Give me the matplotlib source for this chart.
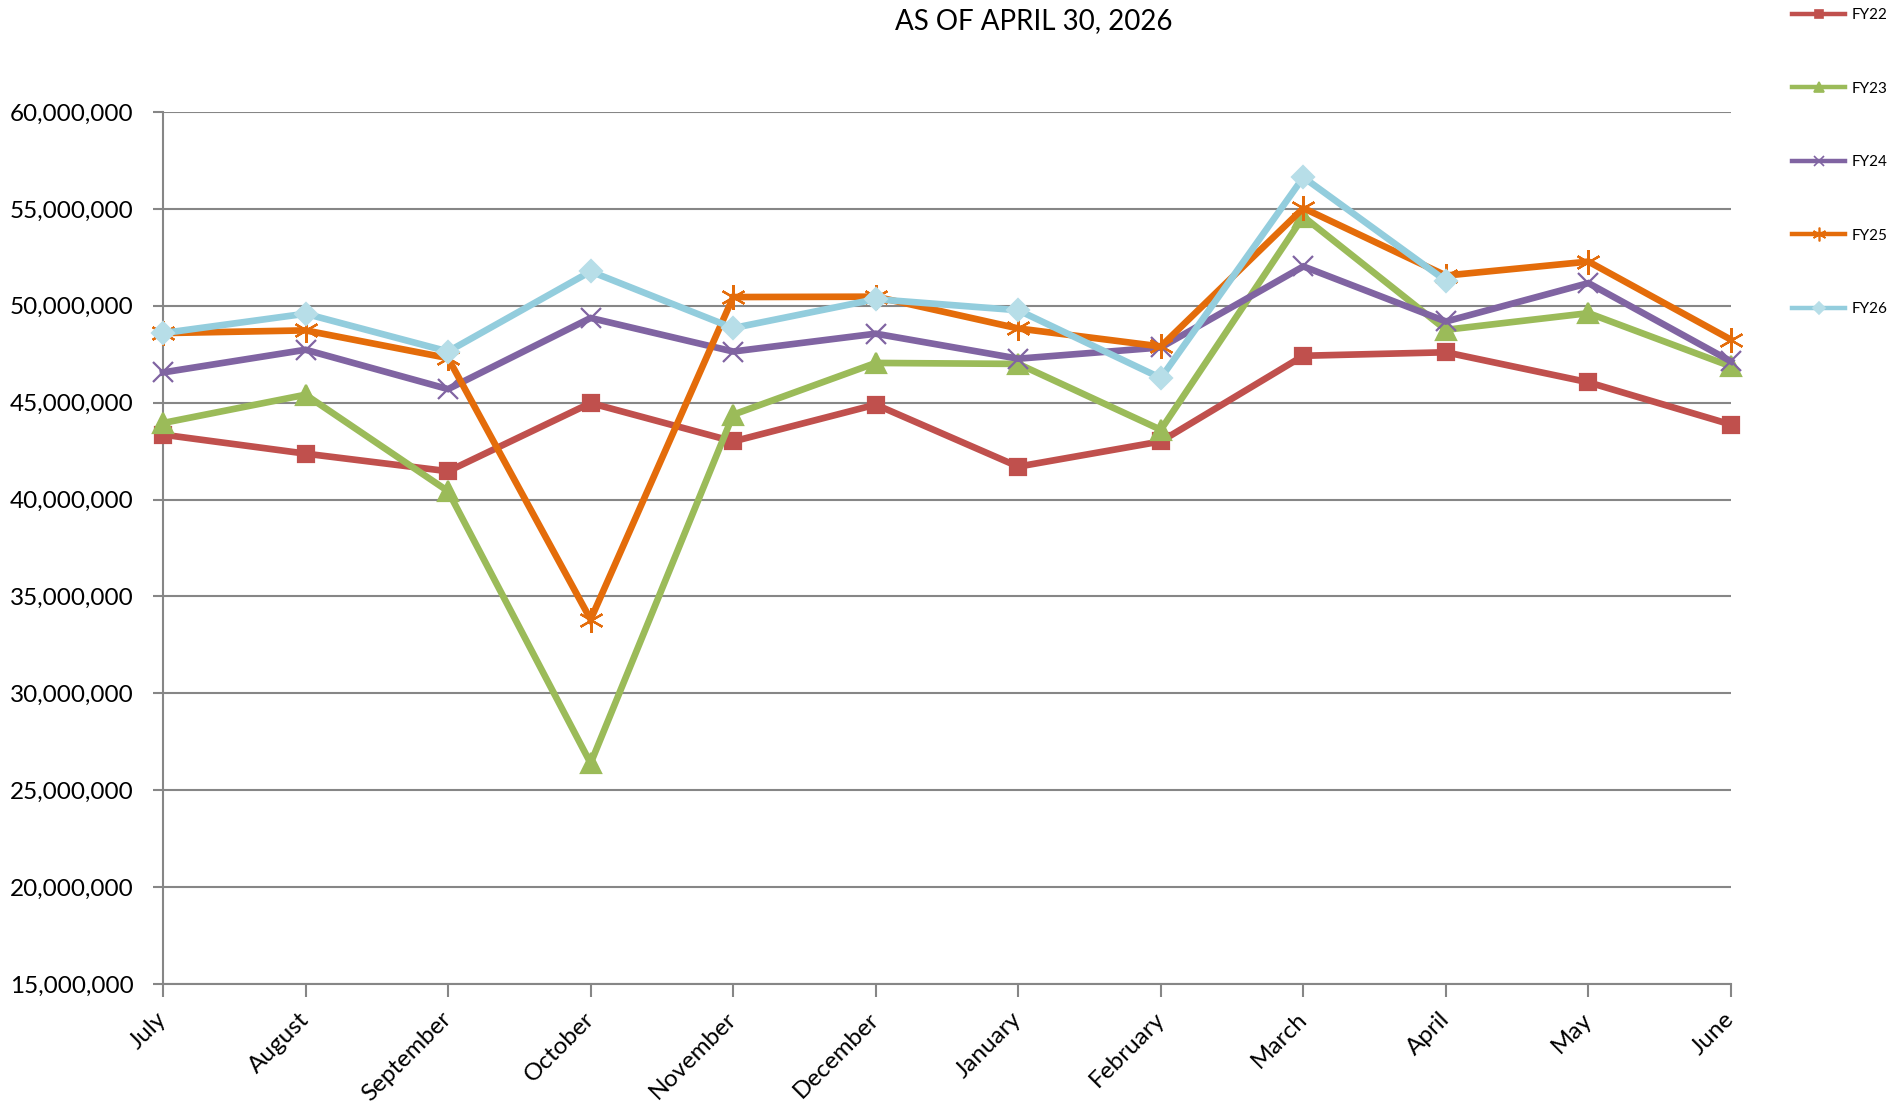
import matplotlib
matplotlib.use("Agg")
import matplotlib.pyplot as plt
from matplotlib.lines import Line2D
from matplotlib.ticker import FuncFormatter

plt.rcParams["font.family"] = ["Lato", "DejaVu Sans"]

months = ["July", "August", "September", "October", "November", "December",
          "January", "February", "March", "April", "May", "June"]

# monthly values (millions)
fy22 = [43.35, 42.37, 41.46, 44.98, 43.00, 44.90, 41.70, 43.00, 47.42, 47.60, 46.05, 43.87]
fy23 = [43.95, 45.41, 40.43, 26.39, 44.38, 47.05, 47.00, 43.60, 54.60, 48.76, 49.62, 46.87]
fy24 = [46.56, 47.73, 45.70, 49.37, 47.64, 48.56, 47.27, 47.85, 52.03, 49.19, 51.17, 47.13]
fy25 = [48.59, 48.73, 47.30, 33.81, 50.45, 50.47, 48.83, 47.90, 55.04, 51.56, 52.28, 48.25]
fy26 = [48.59, 49.59, 47.64, 51.77, 48.85, 50.34, 49.77, 46.27, 56.63, 51.29]

series = [
    ("FY22", fy22, "#C0504D", "#C0504D", "s", 11),
    ("FY23", fy23, "#9BBB59", "#9BBB59", "^", 14),
    ("FY24", fy24, "#8064A2", "#8064A2", "x", 14),
    ("FY25", fy25, "#E46C0A", "#E46C0A", (6, 2, 0), 18),
    ("FY26", fy26, "#93CDDD", "#B7DEE8", "D", 11),
]

fig = plt.figure(figsize=(19.02, 11.05), dpi=100)
ax = fig.add_axes([163 / 1902, 1 - 984 / 1105, (1731 - 163) / 1902, (984 - 112) / 1105])

handles = []
for name, vals, col, mcol, mk, ms in series:
    x = list(range(len(vals)))
    y = [v * 1e6 for v in vals]
    ax.plot(x, y, color=col, lw=4.8, marker=mk, ms=ms, mfc=mcol, mec=mcol,
            mew=1.6, clip_on=False, zorder=3, solid_joinstyle="miter")
    handles.append(Line2D([], [], color=col, lw=3.2, marker=mk, ms=ms * 0.55,
                          mfc=mcol, mec=mcol, mew=1.2))

ax.set_xlim(0, 11)
ax.set_ylim(15e6, 60e6)
ax.set_yticks([i * 5e6 for i in range(3, 13)])
ax.yaxis.set_major_formatter(FuncFormatter(lambda v, p: f"{int(v):,}"))
ax.set_xticks(range(12))
ax.set_xticklabels(months, rotation=45, ha="right", va="center",
                   rotation_mode="anchor")
ax.tick_params(axis="x", length=9, width=1.5, color="#868686", pad=14,
               labelsize=17.5)
ax.tick_params(axis="y", length=7, width=1.5, color="#868686", pad=14,
               labelsize=17.5)

ax.grid(axis="y", color="#868686", lw=1.5)
ax.set_axisbelow(True)
for s in ["top", "right"]:
    ax.spines[s].set_visible(False)
for s in ["left", "bottom"]:
    ax.spines[s].set_color("#868686")
    ax.spines[s].set_linewidth(1.5)

fig.text(1034 / 1902, 1 - 21 / 1105, "AS OF APRIL 30, 2026", ha="center",
         va="center", fontsize=20)

fig.legend(handles, [s[0] for s in series], loc="upper left",
           bbox_to_anchor=(1792 / 1902, 1 - 8 / 1105), frameon=False,
           fontsize=11, handlelength=3.5, handletextpad=0.4,
           labelspacing=3.9, borderpad=0, borderaxespad=0)

fig.savefig("out.png", dpi=100)
